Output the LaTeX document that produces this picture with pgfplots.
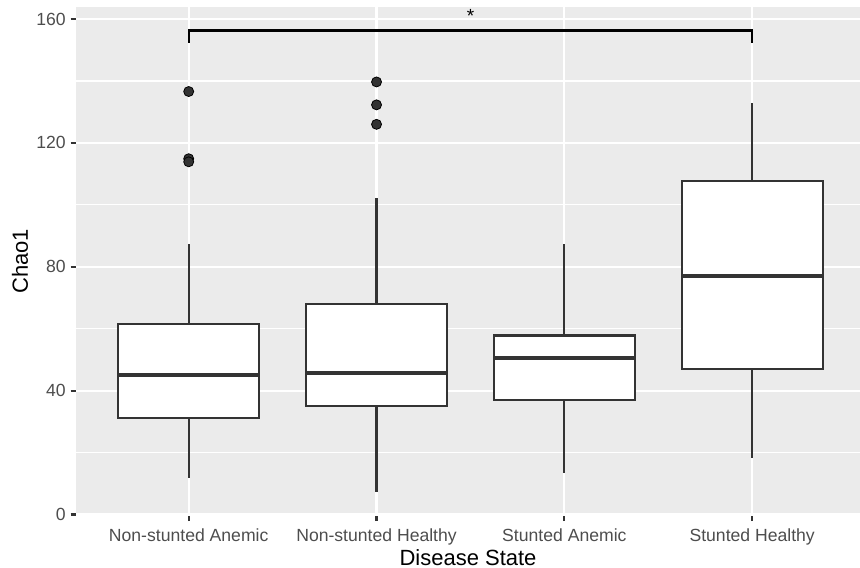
\documentclass[border=0pt]{standalone}
\usepackage{pgfplots}
\pgfplotsset{compat=1.18}
\usepackage{fontspec}
\setmainfont{Liberation Sans}
\definecolor{gray92}{HTML}{EBEBEB}
\definecolor{gray20}{HTML}{333333}
\definecolor{gray30}{HTML}{4D4D4D}
\begin{document}
\begin{tikzpicture}
\begin{axis}[
  scale only axis,
  width=392pt, height=254.5pt,
  xmin=0.4, xmax=4.574,
  ymin=-0.4, ymax=164,
  axis background/.style={fill=gray92},
  axis line style={draw=none},
  xtick={1,2,3,4},
  xticklabels={Non-stunted Anemic,Non-stunted Healthy,Stunted Anemic,Stunted Healthy},
  ytick={0,40,80,120,160},
  minor ytick={20,60,100,140},
  grid=both,
  major grid style={white, line width=1.07pt},
  minor grid style={white, line width=0.53pt},
  minor tick length=0pt,
  tick pos=left,
  tick align=outside,
  major tick length=2.75pt,
  tick style={gray20, line width=1.07pt},
  /pgf/number format/assume math mode=true,
  ticklabel style={font=\fontsize{8.8}{10}\selectfont, text=gray30},
  xticklabel style={anchor=north, inner sep=0pt, yshift=-3.7pt},
  yticklabel style={anchor=east, inner sep=0pt, xshift=-2.2pt},
  every axis x label/.style={at={(axis description cs:0.5,0)}, anchor=center, yshift=-20.8pt, font=\fontsize{11}{13}\selectfont},
  every axis y label/.style={at={(axis description cs:0,0.5)}, xshift=-28pt, rotate=90, anchor=center, font=\fontsize{11}{13}\selectfont},
  xlabel={Disease State},
  ylabel={Chao1},
  clip=false,
  boxstyle/.style={draw=gray20, fill=white, line width=1.07pt, line join=miter},
  whisk/.style={gray20, line width=1.07pt, mark=none},
  med/.style={gray20, line width=2.13pt, mark=none},
  outl/.style={only marks, mark=*, mark size=2.5pt, mark options={fill=gray20, draw=none}},
]
% Non-stunted Anemic
\addplot[whisk] coordinates {(1,61.5) (1,87.2)};
\addplot[whisk] coordinates {(1,31.2) (1,11.7)};
\addplot[boxstyle] coordinates {(0.625,31.2) (1.375,31.2) (1.375,61.5) (0.625,61.5)} -- cycle;
\addplot[med] coordinates {(0.625,45.0) (1.375,45.0)};
\addplot[outl] coordinates {(1,136.6) (1,114.9) (1,113.9)};
% Non-stunted Healthy
\addplot[whisk] coordinates {(2,67.9) (2,102.1)};
\addplot[whisk] coordinates {(2,35.0) (2,7.1)};
\addplot[boxstyle] coordinates {(1.625,35.0) (2.375,35.0) (2.375,67.9) (1.625,67.9)} -- cycle;
\addplot[med] coordinates {(1.625,45.8) (2.375,45.8)};
\addplot[outl] coordinates {(2,139.7) (2,132.3) (2,126.0)};
% Stunted Anemic
\addplot[whisk] coordinates {(3,57.8) (3,87.4)};
\addplot[whisk] coordinates {(3,37.1) (3,13.4)};
\addplot[boxstyle] coordinates {(2.625,37.1) (3.375,37.1) (3.375,57.8) (2.625,57.8)} -- cycle;
\addplot[med] coordinates {(2.625,50.5) (3.375,50.5)};
% Stunted Healthy
\addplot[whisk] coordinates {(4,107.6) (4,133.0)};
\addplot[whisk] coordinates {(4,47.0) (4,18.1)};
\addplot[boxstyle] coordinates {(3.625,47.0) (4.375,47.0) (4.375,107.6) (3.625,107.6)} -- cycle;
\addplot[med] coordinates {(3.625,77.0) (4.375,77.0)};
% significance bracket
\addplot[black, line width=1.07pt, mark=none] coordinates {(1,152.4) (1,156.3) (4,156.3) (4,152.4)};
\node[anchor=south, inner sep=0pt, yshift=3.6pt, font=\fontsize{9.5}{11}\selectfont] at (axis cs:2.5,156.3) {*};
\end{axis}
\pgfresetboundingbox
\path[use as bounding box] ([xshift=-38pt,yshift=-25.7pt]current axis.south west) rectangle ([yshift=3.35pt]current axis.north east);
\end{tikzpicture}
\end{document}
